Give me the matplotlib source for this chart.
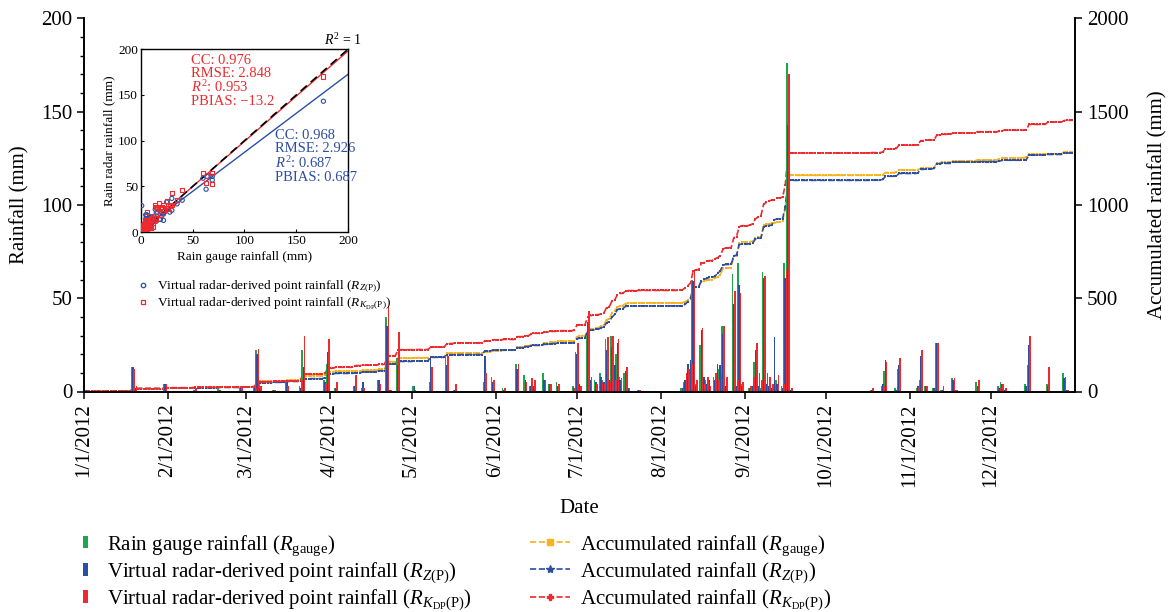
import numpy as np
import pandas as pd
import matplotlib
matplotlib.use("Agg")
import matplotlib.pyplot as plt
import matplotlib.dates as mdates
from matplotlib.patches import Patch
from matplotlib.lines import Line2D
import matplotlib.ticker as mticker

plt.rcParams['font.family'] = ['Liberation Serif', 'DejaVu Serif']
plt.rcParams['mathtext.fontset'] = 'custom'
plt.rcParams['mathtext.rm'] = 'Liberation Serif'
plt.rcParams['mathtext.it'] = 'Liberation Serif:italic'
plt.rcParams['mathtext.bf'] = 'Liberation Serif:bold'

# ---------------- data (day of year index, 0 = 1 Jan 2012) ----------------
rain_doy = [1, 18, 19, 30, 41, 50, 58, 63, 64, 65, 70, 75, 80, 81, 89, 90, 93, 100, 103, 109,
            112, 113, 116, 122, 128, 134, 137, 148, 151, 155, 160, 163, 165, 166, 170, 172, 175,
            181, 182, 183, 186, 187, 189, 191, 192, 193, 194, 195, 196, 197, 198, 200, 201, 205,
            221, 222, 223, 224, 225, 226, 228, 229, 230, 231, 233, 234, 235, 236, 237, 240, 241, 242, 243,
            246, 247, 248, 249, 250, 251, 252, 253, 254, 255, 256, 258, 259, 260, 261,
            291, 295, 296, 300, 301, 308, 309, 311, 314, 315, 317, 321, 322, 330, 338, 339, 340,
            348, 349, 356, 362, 363]
gauge_mm = [1, 13, 2, 4, 1, 2, 2, 3, 22, 4, 1, 5, 3, 22, 6, 15, 2, 3, 2, 6,
            40, 1, 18, 3, 5, 19, 1, 5, 8, 2, 15, 9, 3, 2, 10, 4, 5,
            3, 21, 5, 30, 8, 6, 10, 6, 28, 5, 30, 12, 20, 8, 10, 3, 1,
            2, 5, 6, 10, 60, 4, 25, 3, 6, 4, 8, 5, 12, 35, 3, 63, 3, 69, 4,
            2, 2, 16, 4, 2, 64, 4, 3, 3, 1, 6, 3, 69, 176, 2,
            1, 3, 11, 2, 12, 2, 6, 3, 2, 26, 1, 7, 2, 5, 3, 5, 3,
            4, 14, 4, 10, 1]
rz_mm = [1, 13, 2, 4, 1, 1, 2, 2, 20, 2, 1, 5, 2, 13, 5, 21, 2, 3, 5, 6,
         35, 1, 14, 3, 19, 14, 1, 19, 5, 1, 12, 6, 3, 3, 6, 4, 3,
         2, 20, 4, 37, 6, 5, 8, 5, 22, 6, 24, 14, 26, 6, 11, 2, 1,
         2, 6, 15, 17, 59, 3, 33, 8, 4, 6, 6, 15, 14, 31, 3, 47, 3, 57, 3,
         2, 3, 22, 3, 1, 61, 4, 3, 2, 29, 4, 2, 61, 143, 1,
         1, 4, 17, 1, 14, 3, 19, 3, 2, 26, 1, 6, 1, 3, 2, 4, 1,
         3, 25, 3, 7, 1]
rkdp_mm = [1, 12, 3, 4, 2, 1, 2, 2, 23, 3, 1, 3, 6, 30, 4, 28, 5, 9, 2, 4,
           46, 1, 32, 1, 13, 19, 4, 10, 6, 2, 15, 5, 7, 6, 6, 4, 4,
           2, 26, 3, 43, 8, 4, 5, 4, 29, 5, 30, 6, 28, 7, 13, 2, 1,
           3, 10, 12, 15, 65, 6, 34, 4, 8, 3, 10, 6, 10, 35, 8, 54, 6, 53, 5,
           3, 8, 26, 10, 6, 62, 10, 8, 4, 3, 9, 4, 65, 170, 2,
           2, 3, 16, 3, 18, 2, 22, 3, 2, 26, 3, 7, 1, 6, 2, 4, 2,
           1, 30, 13, 8, 1]

# inset statistics / fitted lines (slope, intercept)
stats_kdp = ["CC: 0.976", "RMSE: 2.848", "$R^2$: 0.953", "PBIAS: \u221213.2"]
stats_z = ["CC: 0.968", "RMSE: 2.926", "$R^2$: 0.687", "PBIAS: 0.687"]
fit_rz = (0.853, 2.0)
fit_rkdp = (0.988, 0.5)

month_labels = ["1/1/2012", "2/1/2012", "3/1/2012", "4/1/2012", "5/1/2012", "6/1/2012",
                "7/1/2012", "8/1/2012", "9/1/2012", "10/1/2012", "11/1/2012", "12/1/2012"]

GREEN = '#1ea64c'
BLUE = '#2c4ea3'
RED = '#ee2a2e'
YELLOW = '#f7b21c'

# ---------------- derived ----------------
dates = pd.date_range('2012-01-01', '2012-12-31', freq='D')
x = mdates.date2num(dates)


def daily(vals):
    arr = np.zeros(len(dates))
    arr[np.array(rain_doy)] = vals
    return arr


g = daily(gauge_mm)
z = daily(rz_mm)
k = daily(rkdp_mm)
acc_g, acc_z, acc_k = np.cumsum(g), np.cumsum(z), np.cumsum(k)

# ---------------- figure ----------------
W, H = 1169, 612
fig = plt.figure(figsize=(W / 100, H / 100), dpi=100)
ax = fig.add_axes([84 / W, 1 - 391.5 / H, (1075 - 84) / W, (391.5 - 18.5) / H])
ax2 = ax.twinx()
ax.set_zorder(ax2.get_zorder() + 1)
ax.patch.set_visible(False)

xd = mdates.date2num(pd.to_datetime('2012-01-01') + pd.to_timedelta(rain_doy, unit='D'))
bw = 0.6
ax.bar(xd - 0.45, gauge_mm, width=bw, color=GREEN, linewidth=0)
ax.bar(xd, rz_mm, width=bw, color=BLUE, linewidth=0)
ax.bar(xd + 0.45, rkdp_mm, width=bw, color=RED, linewidth=0)

ax2.plot(x, acc_g, ls='--', lw=1.2, color=YELLOW, marker='s', ms=1.9, mew=0)
ax2.plot(x, acc_z, ls='--', lw=1.2, color=BLUE, marker='s', ms=1.9, mew=0)
ax2.plot(x, acc_k, ls='--', lw=1.2, color=RED, marker='s', ms=1.9, mew=0)

x0 = mdates.date2num(pd.Timestamp('2012-01-01'))
x1 = mdates.date2num(pd.Timestamp('2013-01-01'))
ax.set_xlim(x0, x1)
ax.set_ylim(0, 200)
ax2.set_ylim(0, 2000)

ax.spines['top'].set_visible(False)
ax2.spines['top'].set_visible(False)
for a in (ax, ax2):
    for s in a.spines.values():
        s.set_linewidth(1.2)

month_ticks = mdates.date2num(pd.date_range('2012-01-01', '2012-12-01', freq='MS'))
ax.set_xticks(month_ticks)
ax.set_xticklabels(month_labels, rotation=90)
ax.set_yticks(np.arange(0, 201, 50))
ax.yaxis.set_minor_locator(mticker.MultipleLocator(10))
ax2.set_yticks(np.arange(0, 2001, 500))
ax.tick_params(axis='both', which='major', direction='out', length=5, width=1.1, labelsize=15)
ax.tick_params(axis='y', which='minor', direction='out', length=3, width=1.0)
ax2.tick_params(axis='y', which='major', direction='out', length=5, width=1.1, labelsize=15)

ax.set_ylabel('Rainfall (mm)', fontsize=15, labelpad=8)
ax2.set_ylabel('Accumulated rainfall (mm)', fontsize=15, labelpad=14)
ax.set_xlabel('Date', fontsize=15, labelpad=8)

# ---------------- inset ----------------
axi = fig.add_axes([140.7 / W, 1 - 232.3 / H, 207.6 / W, 183.3 / H])
axi.set_zorder(ax.get_zorder() + 1)
axi.set_xlim(0, 200)
axi.set_ylim(0, 200)
line = np.array([0, 200])
axi.plot(line, fit_rz[0] * line + fit_rz[1], color=BLUE, lw=1.0)
axi.plot(line, fit_rkdp[0] * line + fit_rkdp[1], color=RED, lw=1.0)
axi.plot(line, line, color='black', lw=1.2, ls=(0, (5, 3)))
axi.scatter(gauge_mm, rz_mm, s=9, facecolors='none', edgecolors=BLUE, linewidths=0.8, zorder=3)
axi.scatter(gauge_mm, rkdp_mm, s=9, marker='s', facecolors='none', edgecolors=RED, linewidths=0.8, zorder=4)
axi.set_xticks(np.arange(0, 201, 50))
axi.set_yticks(np.arange(0, 201, 50))
axi.tick_params(direction='in', length=2, labelsize=9.5, pad=2)
for s in axi.spines.values():
    s.set_linewidth(1.0)
axi.set_xlabel('Rain gauge rainfall (mm)', fontsize=9.5, labelpad=3)
axi.set_ylabel('Rain radar rainfall (mm)', fontsize=9.5, labelpad=2)
axi.text(177, 201, '$R^2$ = 1', fontsize=10, va='bottom', ha='left')
axi.text(48, 195, '\n'.join(stats_kdp), fontsize=10.5, color=RED, va='top', ha='left', linespacing=1.0)
axi.text(129, 113, '\n'.join(stats_z), fontsize=10.5, color=BLUE, va='top', ha='left', linespacing=1.0)

inset_handles = [
    Line2D([], [], ls='none', marker='o', ms=3.2, mfc='none', mec=BLUE, mew=0.9),
    Line2D([], [], ls='none', marker='s', ms=3.2, mfc='none', mec=RED, mew=0.9),
]
inset_labels = ['Virtual radar-derived point rainfall ($R_{Z(\\mathrm{P})}$)',
                'Virtual radar-derived point rainfall ($R_{K_{\\mathrm{DP}}(\\mathrm{P})}$)']
fig.legend(inset_handles, inset_labels, loc='upper left', bbox_to_anchor=(136 / W, 1 - 279 / H),
           frameon=False, fontsize=9.6, handlelength=1.0, handletextpad=0.6, labelspacing=0.05,
           borderpad=0, borderaxespad=0)

# ---------------- legends ----------------
bar_handles = [Patch(facecolor=c, edgecolor='none') for c in (GREEN, BLUE, RED)]
bar_labels = ['Rain gauge rainfall ($R_{\\mathrm{gauge}}$)',
              'Virtual radar-derived point rainfall ($R_{Z(\\mathrm{P})}$)',
              'Virtual radar-derived point rainfall ($R_{K_{\\mathrm{DP}}(\\mathrm{P})}$)']
fig.legend(bar_handles, bar_labels, loc='upper left', bbox_to_anchor=(83 / W, 1 - 533 / H),
           frameon=False, fontsize=15, handlelength=0.22, handleheight=0.55, handletextpad=0.95,
           labelspacing=0.12, borderpad=0, borderaxespad=0)

acc_handles = [
    Line2D([], [], color=YELLOW, ls='--', lw=1.2, marker='s', ms=4),
    Line2D([], [], color=BLUE, ls='--', lw=1.2, marker='*', ms=6),
    Line2D([], [], color=RED, ls='--', lw=1.2, marker='P', ms=5),
]
acc_labels = ['Accumulated rainfall ($R_{\\mathrm{gauge}}$)',
              'Accumulated rainfall ($R_{Z(\\mathrm{P})}$)',
              'Accumulated rainfall ($R_{K_{\\mathrm{DP}}(\\mathrm{P})}$)']
fig.legend(acc_handles, acc_labels, loc='upper left', bbox_to_anchor=(530 / W, 1 - 533 / H),
           frameon=False, fontsize=15, handlelength=1.9, handletextpad=0.5,
           labelspacing=0.12, borderpad=0, borderaxespad=0)

fig.savefig('out.png', dpi=100)
